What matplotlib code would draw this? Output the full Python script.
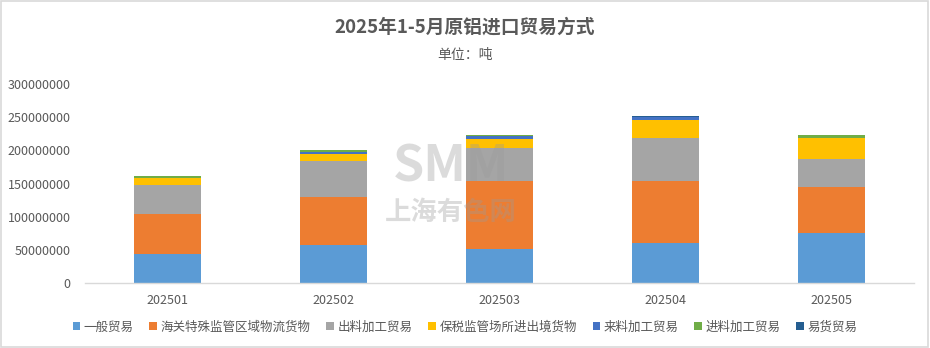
import matplotlib
matplotlib.use("Agg")
import matplotlib.pyplot as plt
import numpy as np

plt.rcParams['font.family'] = ['Noto Sans CJK SC', 'DejaVu Sans']

months = ["202501", "202502", "202503", "202504", "202505"]
series_names = ["一般贸易", "海关特殊监管区域物流货物", "出料加工贸易", "保税监管场所进出境货物",
                "来料加工贸易", "进料加工贸易", "易货贸易"]
general = [43.7e6, 56.8e6, 51.3e6, 59.9e6, 75.0e6]
customs_special = [60.3e6, 72.9e6, 102.5e6, 93.9e6, 69.8e6]
outward_processing = [43.8e6, 54.3e6, 49.2e6, 64.9e6, 42.2e6]
bonded = [10.1e6, 11.0e6, 13.7e6, 27.1e6, 31.0e6]
processing_supplied = [0.6e6, 3.0e6, 5.0e6, 4.0e6, 0.6e6]
processing_imported = [3.0e6, 2.0e6, 1.0e6, 1.0e6, 4.0e6]
barter = [0.3e6, 0.5e6, 0.5e6, 1.5e6, 1.0e6]
yticks = [0, 50000000, 100000000, 150000000, 200000000, 250000000, 300000000]

colors = ["#5B9BD5", "#ED7D31", "#A5A5A5", "#FFC000", "#4472C4", "#70AD47", "#255E91"]
data = [general, customs_special, outward_processing, bonded,
        processing_supplied, processing_imported, barter]

fig = plt.figure(figsize=(9.3, 3.48), dpi=100)
ax = fig.add_axes([0.0909, 0.1868, 0.8924, 0.5718])

x = np.arange(len(months))
bottom = np.zeros(len(months))
for name, vals, c in zip(series_names, data, colors):
    ax.bar(x, vals, 0.40, bottom=bottom, color=c, label=name, zorder=2)
    bottom += np.array(vals)

ax.set_xlim(-0.5, len(months) - 0.5)
ax.set_ylim(0, 300000000)
ax.set_yticks(yticks)
ax.set_yticklabels([str(v) for v in yticks])
ax.set_xticks(x)
ax.set_xticklabels(months)
ax.tick_params(axis='both', length=0, labelsize=9, colors="#595959", pad=8)
ax.tick_params(axis='y', pad=10)
for s in ["top", "right", "left"]:
    ax.spines[s].set_visible(False)
ax.spines["bottom"].set_color("#D9D9D9")
ax.spines["bottom"].set_linewidth(1.0)

# watermark
fig.text(0.485, 0.52, "SMM", fontsize=36, fontweight="bold", color="#9a9a9a",
         alpha=0.35, ha="center", va="center", zorder=10)
fig.text(0.485, 0.39, "上海有色网", fontsize=19, fontweight="bold", color="#9a9a9a",
         alpha=0.35, ha="center", va="center", zorder=10)

fig.text(0.5, 0.922, "2025年1-5月原铝进口贸易方式", fontsize=13.5, fontweight="bold",
         color="#595959", ha="center", va="center")
fig.text(0.5, 0.842, "单位：吨", fontsize=10, color="#595959", ha="center", va="center")

handles, labels = ax.get_legend_handles_labels()
leg = fig.legend(handles, labels, loc="center", bbox_to_anchor=(0.5, 0.06), ncol=7,
                 frameon=False, fontsize=9, handlelength=0.6, handleheight=0.6,
                 handletextpad=0.3, columnspacing=1.25, labelcolor="#595959")

# light border around figure
fig.patches.append(plt.Rectangle((0.001, 0.002), 0.997, 0.995, transform=fig.transFigure,
                                 fill=False, edgecolor="#D9D9D9", linewidth=1.2))

fig.savefig("out.png", dpi=100)
